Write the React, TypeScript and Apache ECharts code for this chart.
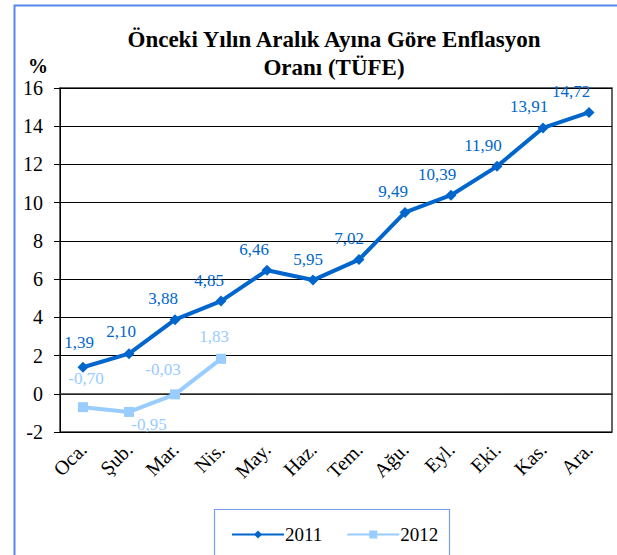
import React, { useEffect, useRef } from "react";
import * as echarts from "echarts";

const months = ["Oca.", "Şub.", "Mar.", "Nis.", "May.", "Haz.", "Tem.", "Ağu.", "Eyl.", "Eki.", "Kas.", "Ara."];
const values2011 = [1.39, 2.1, 3.88, 4.85, 6.46, 5.95, 7.02, 9.49, 10.39, 11.9, 13.91, 14.72];
const values2012 = [-0.7, -0.95, -0.03, 1.83];

// label styling (not data)
const labelOffsets2011 = [[-4, -6], [-8, -3], [-12, -2], [-12, -2], [-13, -2], [-5, -2], [-10, -2], [-12, -2], [-14, -2], [-14, -2], [-14, -2], [-18, -2]];
const labelPos2012 = ["top", "bottom", "top", "top"];
const labelOffsets2012 = [[3, -10], [20, -6], [-12, -6], [-7, -4]];

const FONT = "Liberation Serif";
const C2011 = "#0066CC";
const C2012 = "#99CCFF";
const fmt = (v: number) => v.toFixed(2).replace(".", ",");

export default function App() {
  const ref = useRef<HTMLDivElement>(null);
  useEffect(() => {
    document.body.style.margin = "0";
    const chart = echarts.init(ref.current!, null, { renderer: "svg" });
    chart.setOption({
      animation: false,
      backgroundColor: "#fff",
      title: {
        text: "Önceki Yılın Aralık Ayına Göre Enflasyon\nOranı (TÜFE)",
        left: 329,
        textAlign: "center",
        top: 20,
        textStyle: { fontFamily: FONT, fontSize: 23, fontWeight: "bold", color: "#000", lineHeight: 28 },
      },
      graphic: [
        { type: "rect", shape: { x: 14.5, y: 5.5, width: 700, height: 700 }, style: { fill: "none", stroke: "#5A86F0", lineWidth: 2 }, silent: true },
        { type: "rect", shape: { x: 214.5, y: 509.5, width: 235, height: 60 }, style: { fill: "none", stroke: "#7A9CF2", lineWidth: 1.2 }, silent: true },
        { type: "text", x: 38, y: 66, style: { text: "%", fontFamily: FONT, fontSize: 20, fontWeight: "bold", fill: "#000", align: "center", verticalAlign: "middle" } },
      ],
      legend: {
        left: 226,
        top: 520,
        itemWidth: 52,
        itemHeight: 10,
        itemGap: 24,
        textStyle: { fontFamily: FONT, fontSize: 19, color: "#000", padding: [0, 0, 0, -4] },
        data: ["2011", "2012"],
      },
      grid: { left: 60, top: 88, right: 5, bottom: 123, show: true, borderColor: "#333", borderWidth: 1.5 },
      xAxis: {
        type: "category",
        data: months,
        boundaryGap: true,
        axisLine: { lineStyle: { color: "#333", width: 1.5 } },
        axisTick: { show: false },
        axisLabel: { rotate: 45, fontFamily: FONT, fontSize: 20, color: "#000", margin: 14 },
      },
      yAxis: {
        type: "value",
        min: -2,
        max: 16,
        interval: 2,
        axisLine: { show: true, lineStyle: { color: "#000" } },
        axisTick: { show: true, length: 6, lineStyle: { color: "#000" } },
        axisLabel: { fontFamily: FONT, fontSize: 20, color: "#000", margin: 17 },
        splitLine: { lineStyle: { color: "#000", width: 1 } },
      },
      series: [
        {
          name: "2011",
          type: "line",
          data: values2011.map((v, i) => ({ value: v, label: { offset: labelOffsets2011[i] } })),
          symbol: "diamond",
          symbolSize: 11,
          lineStyle: { color: C2011, width: 4 },
          itemStyle: { color: C2011 },
          label: {
            show: true,
            position: "top",
            formatter: (p: any) => fmt(p.value),
            fontFamily: FONT,
            fontSize: 17,
            color: C2011,
          },
        },
        {
          name: "2012",
          type: "line",
          data: values2012.map((v, i) => ({
            value: v,
            label: { position: labelPos2012[i], offset: labelOffsets2012[i] },
          })),
          symbol: "rect",
          symbolSize: 10,
          lineStyle: { color: C2012, width: 4 },
          itemStyle: { color: C2012 },
          label: {
            show: true,
            formatter: (p: any) => fmt(p.value),
            fontFamily: FONT,
            fontSize: 17,
            color: C2012,
          },
        },
      ],
    });
    return () => chart.dispose();
  }, []);
  return <div ref={ref} style={{ width: 617, height: 555 }} />;
}
